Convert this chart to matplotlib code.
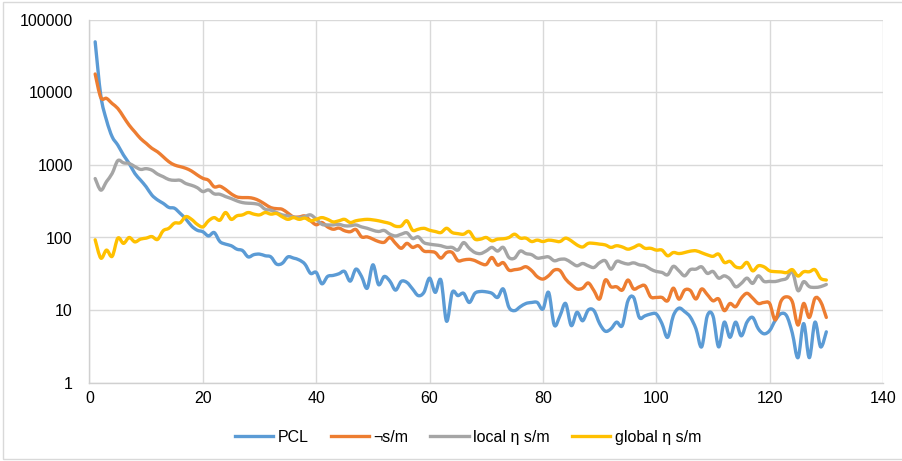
import numpy as np
import matplotlib
matplotlib.use("Agg")
import matplotlib.pyplot as plt
from matplotlib.patches import Rectangle, PathPatch
from matplotlib.path import Path
from matplotlib.lines import Line2D

plt.rcParams['font.family'] = ['Liberation Sans', 'DejaVu Sans']

x = list(range(1, 131))

pcl = [
    50000, 9000, 4150, 2450, 1880, 1370, 1050, 765, 620, 500,
    385, 330, 296, 260, 253, 215, 180, 144, 126, 120,
    105, 117, 88, 81, 77, 69, 66, 54, 58, 59,
    56, 54, 43, 44, 54, 52, 49, 43, 32, 33,
    23, 29, 30, 31.6, 34, 25, 36.6, 29, 20, 42,
    22.4, 29, 25, 18.8, 24.8, 24, 19.5, 15.8, 17.5, 27.5,
    17.5, 25.9, 7, 17.5, 15.8, 17, 12.7, 17, 18, 17.8,
    17, 14.9, 19.5, 10.9, 9.8, 11.1, 12.3, 12.7, 12.7, 10.3,
    17.5, 6.2, 8.3, 12.3, 6.1, 9.3, 7.1, 10, 9.8, 6.5,
    5.1, 5.5, 6.8, 6.1, 13.4, 14.9, 7.9, 8.3, 8.8, 8.8,
    6.5, 4.2, 8.3, 10.6, 9.5, 8, 5.5, 3.1, 8.3, 8.3,
    3.1, 6.8, 4.2, 6.8, 4.4, 6.8, 7.9, 5.5, 4.7, 5.2,
    7.2, 8.9, 8.3, 4.8, 2.2, 6.5, 2.2, 6.8, 3.1, 5.0,
]

neg_sm = [
    18000, 8500, 8300, 7040, 6020, 4620, 3540, 2860, 2320, 1990,
    1700, 1520, 1300, 1110, 1000, 950, 900, 826, 730, 655,
    615, 500, 510, 460, 400, 363, 355, 355, 345, 320,
    287, 258, 250, 245, 217, 192, 192, 198, 170, 150,
    161, 140, 130, 135, 124, 120, 129, 102, 102, 95,
    88, 86, 100, 83, 71, 83, 73, 77, 65, 64,
    62, 52, 62, 62, 48, 49, 50, 48, 44, 42.5,
    53, 41.6, 45, 35.5, 36, 37, 39.5, 35, 28.8, 26.7,
    29.7, 35.5, 35, 26.7, 22.4, 19.5, 20, 23.6, 18.5, 14.2,
    25.9, 20.9, 20.9, 18.8, 25.9, 19.5, 20.9, 21.6, 15.2, 14.9,
    14.9, 13.4, 20, 14.1, 18.8, 18.6, 14.2, 19.5, 16.3, 13.4,
    14.2, 9.8, 12.3, 11.1, 14.6, 17, 14.6, 12.3, 12.7, 12.3,
    7.3, 13.2, 15.2, 13, 6.2, 12.3, 7.9, 14.5, 13, 7.9,
]

local_sm = [
    650, 450, 590, 765, 1150, 1070, 1050, 950, 870, 890,
    850, 750, 690, 630, 615, 615, 555, 525, 487, 430,
    453, 400, 395, 367, 345, 320, 303, 297, 294, 282,
    245, 238, 221, 205, 199, 192, 188, 195, 205, 179,
    152, 149, 149, 152, 145, 145, 149, 140, 134, 126,
    121, 125, 111, 105, 111, 116, 97, 102, 85, 81,
    79, 77, 73, 73, 67, 85, 71, 62, 60, 65.3,
    73, 65, 73, 53, 52, 65, 60, 58, 52, 53,
    54, 47.8, 50, 50, 45, 40.7, 43.8, 40.7, 38.6, 45,
    47.8, 36.6, 46.8, 45, 43, 44.7, 42, 40.7, 36.6, 34,
    33, 30.6, 40, 34.7, 29.6, 36, 36.6, 39.4, 32, 34,
    27.5, 29.6, 26.7, 20.9, 23.3, 27.5, 23.3, 29.6, 24.8, 24.8,
    24.7, 25.9, 27.3, 33.7, 18.5, 24.6, 21, 20.5, 21, 22.5,
]

global_sm = [
    93, 52, 67, 55, 98, 83, 100, 87, 95, 98,
    103, 94, 124, 134, 158, 160, 194, 178, 152, 140,
    170, 188, 173, 221, 178, 199, 205, 221, 210, 205,
    221, 210, 214, 193, 178, 188, 178, 185, 170, 178,
    188, 178, 164, 170, 178, 161, 170, 175, 178, 175,
    170, 163, 156, 143, 144, 170, 126, 130, 134, 126,
    121, 117, 134, 117, 113, 111, 121, 95, 95, 100,
    90, 95, 96, 100, 111, 98, 98, 88, 92, 88,
    92, 90, 88, 98, 90, 79, 74, 83, 83, 81,
    79, 73, 77, 74, 69, 73, 79, 71, 71, 67,
    67, 56, 62, 60, 62, 64.8, 65.6, 61.6, 57.6, 55,
    59, 45.3, 46.8, 39.4, 38.6, 45.3, 34.7, 40.7, 39.4, 34.7,
    33.8, 33.5, 32.8, 36, 29.4, 33.7, 33.7, 36, 27.3, 25.9,
]

series = [
    ("PCL", pcl, "#5B9BD5"),
    ("¬s/m", neg_sm, "#ED7D31"),
    ("local η s/m", local_sm, "#A5A5A5"),
    ("global η s/m", global_sm, "#FFC000"),
]

x_ticks = [0, 20, 40, 60, 80, 100, 120, 140]
y_ticks = [1, 10, 100, 1000, 10000, 100000]


def smooth_path(xs, ys):
    """Cubic Bezier path through the points (smoothed line), built in log-y space."""
    px = np.asarray(xs, float)
    py = np.log10(np.asarray(ys, float))
    n = len(px)
    verts = [(px[0], 10 ** py[0])]
    codes = [Path.MOVETO]
    for i in range(n - 1):
        i0 = max(i - 1, 0)
        i3 = min(i + 2, n - 1)
        c1x = px[i] + (px[i + 1] - px[i0]) / 6
        c1y = py[i] + (py[i + 1] - py[i0]) / 6
        c2x = px[i + 1] - (px[i3] - px[i]) / 6
        c2y = py[i + 1] - (py[i3] - py[i]) / 6
        verts += [(c1x, 10 ** c1y), (c2x, 10 ** c2y), (px[i + 1], 10 ** py[i + 1])]
        codes += [Path.CURVE4] * 3
    return Path(verts, codes)


W, H = 903, 461
fig = plt.figure(figsize=(W / 100, H / 100), dpi=100)
fig.patch.set_facecolor("white")

left, right, top, bottom = 89.5, 883.0, 20.0, 382.5
ax = fig.add_axes([left / W, 1 - bottom / H, (right - left) / W, (bottom - top) / H])
ax.set_yscale("log")
ax.set_xlim(0, 140)
ax.set_ylim(1, 100000)

handles = []
for label, vals, color in series:
    patch = PathPatch(smooth_path(x, vals), fill=False, edgecolor=color, lw=2.4,
                      capstyle="round", joinstyle="round")
    ax.add_patch(patch)
    handles.append(Line2D([], [], color=color, lw=2.4, label=label))

ax.set_xticks(x_ticks)
ax.set_xticklabels([str(t) for t in x_ticks])
ax.set_yticks(y_ticks)
ax.set_yticklabels([str(t) for t in y_ticks])
ax.yaxis.set_minor_locator(matplotlib.ticker.NullLocator())

ax.grid(True, which="major", color="#D9D9D9", lw=1.0)
ax.set_axisbelow(True)
for side in ["top", "right"]:
    ax.spines[side].set_visible(False)
for side in ["left", "bottom"]:
    ax.spines[side].set_color("#D0D0D0")
    ax.spines[side].set_linewidth(1.0)

ax.tick_params(axis="both", length=0, labelsize=11.5, colors="black")
ax.tick_params(axis="y", pad=12)
ax.tick_params(axis="x", pad=6)

leg = fig.legend(handles=handles, loc="center", bbox_to_anchor=(468 / W, 1 - 437 / H),
                 ncol=4, frameon=False, fontsize=11.5, handlelength=2.4,
                 handletextpad=0.3, columnspacing=1.35)

# chart-area outline
fig.patches.append(Rectangle((3 / W, 1 - 459 / H), (W + 5) / W, 457 / H,
                             transform=fig.transFigure, fill=False,
                             edgecolor="#D9D9D9", lw=1.0))

fig.savefig("out.png", dpi=100)
